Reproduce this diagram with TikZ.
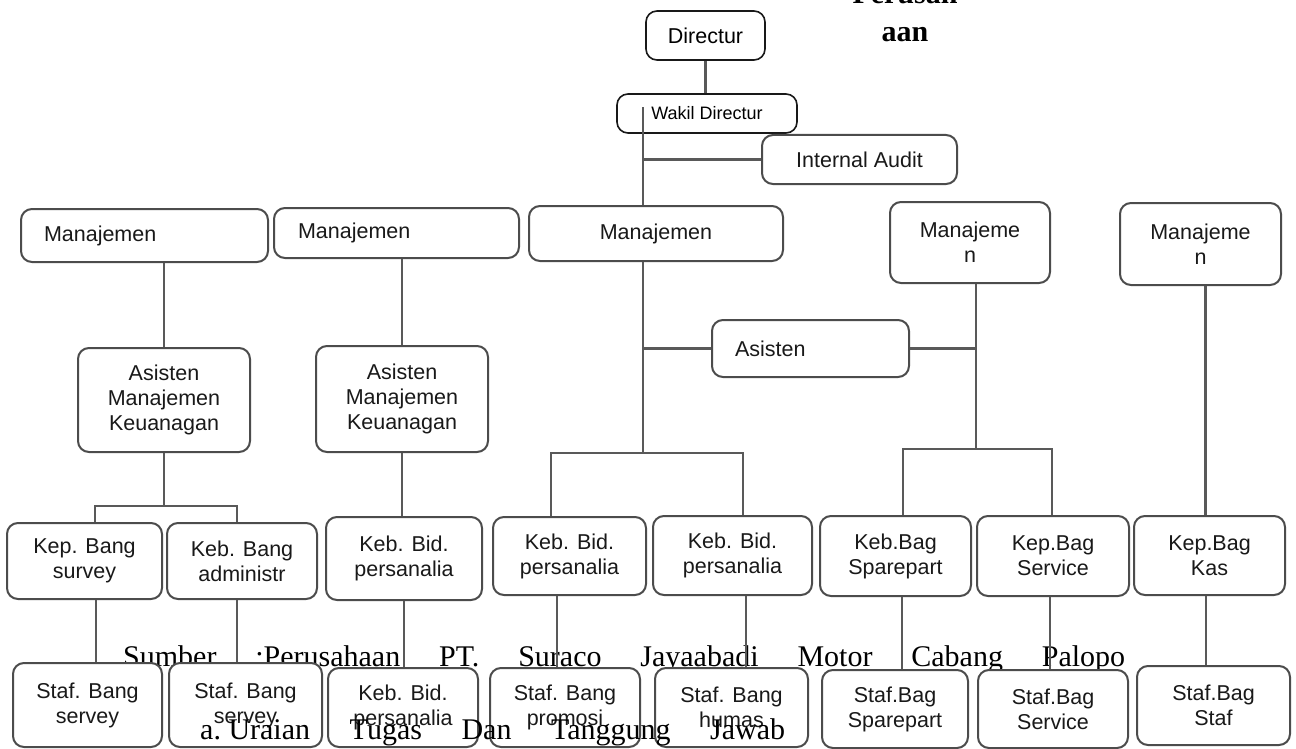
\documentclass[tikz,border=0pt]{standalone}
\usepackage{fontspec}
\setmainfont{Liberation Serif}
\newfontfamily\boxfont{Liberation Sans}

\begin{document}
\begin{tikzpicture}[x=1pt,y=-1pt,
 box/.style 2 args={draw=black!70,line width=2pt,rounded corners=11pt,fill=white,minimum width=#1pt,minimum height=#2pt,inner sep=0pt,align=center,text=black!90,font=\boxfont\fontsize{21.5}{25}\selectfont},
 head/.style={draw=black!90,line width=1.6pt,text=black},
 link/.style={draw=black!65,line width=2.2pt},
 note/.style={inner sep=0pt,anchor=base west,font=\fontsize{30}{36}\selectfont}]
\fill[white] (0,0) rectangle (1296,749);\useasboundingbox (0,0) rectangle (1296,749);
\node[note] (src) at (123,666) {\hbox to 1002pt{Sumber\hfill:Perusahaan\hfill PT.\hfill Suraco\hfill Jayaabadi\hfill Motor\hfill Cabang\hfill Palopo}};
\node[inner sep=0pt,anchor=south,align=center,font=\bfseries\fontsize{30}{38}\selectfont] (per) at (905,42) {Perusah\\aan};

\node[box={119}{49},head] (dir) at (705.5,35.5) {Directur};
\node[box={180}{39},head,font=\boxfont\fontsize{18}{22}\selectfont] (wakil) at (707,113.5) {Wakil Directur};
\node[box={195}{49}] (audit) at (859.5,159.5) {Internal Audit};
\node[box={247}{53},text width=201pt,inner xsep=23pt,align=left] (m1) at (144.5,235.5) {Manajemen};
\node[box={245}{50},text width=197pt,inner xsep=24pt,align=left] (m2) at (396.5,233) {Manajemen};
\node[box={254}{55}] (m3) at (656,233.5) {Manajemen};
\node[box={160}{81}] (m4) at (970,242.5) {Manajeme\\n};
\node[box={161}{82}] (m5) at (1200.5,244) {Manajeme\\n};
\node[box={172}{104}] (a1) at (164,400) {Asisten\\Manajemen\\Keuanagan};
\node[box={172}{106}] (a2) at (402,399) {Asisten\\Manajemen\\Keuanagan};
\node[box={197}{57},text width=151pt,inner xsep=23pt,align=left] (asis) at (810.5,348.5) {Asisten};
\foreach \n/\x/\y/\w/\h/\t in {k1/84.5/561/155/76/{Kep. Bang\\survey},k2/242/561/150/76/{Keb. Bang\\administr},k3/404/558.5/156/83/{Keb. Bid.\\persanalia},k4/569.5/556/153/78/{Keb. Bid.\\persanalia},k5/732.5/555.5/159/79/{Keb. Bid.\\persanalia},k6/895.5/556/151/80/{Keb.Bag\\Sparepart},k7/1053/556/152/80/{Kep.Bag\\Service},k8/1209.5/555.5/151/79/{Kep.Bag\\Kas}}{\node[box={\w}{\h}] (\n) at (\x,\y) {\t};}
\foreach \n/\x/\y/\w/\h/\t in {s1/87.5/705/149/84/{Staf. Bang\\servey},s2/245.5/705/153/84/{Staf. Bang\\servey},s3/403/707.5/150/79/{Keb. Bid.\\persanalia},s4/565/707.5/150/79/{Staf. Bang\\promosi},s5/731.5/707.5/153/79/{Staf. Bang\\humas},s6/895/709/146/78/{Staf.Bag\\Sparepart},s7/1053/709/150/78/{Staf.Bag\\Service},s8/1213.5/705.5/153/79/{Staf.Bag\\Staf}}{\node[box={\w}{\h}] (\n) at (\x,\y) {\t};}

\draw[link] (dir.south) -- (dir.south |- wakil.north);
\coordinate (t) at ([xshift=-64pt,yshift=6pt]wakil.center);
\draw[link] (t) -- (t |- m3.north);\draw[link] (audit.west) -- (audit.west -| t);
\draw[link] (t |- m3.south) -- ++(0,191) coordinate (j3);\draw[link] (asis.west) -- (asis.west -| t);
\draw[link] (j3) -| ([xshift=-18.5pt]k4.north);\draw[link] (j3) -| ([xshift=10.5pt]k5.north);
\draw[link] ([xshift=6pt]m4.south) -- ++(0,165) coordinate (j4);\draw[link] (asis.east) -- (asis.east -| j4);
\draw[link] (j4) -| ([xshift=7.5pt]k6.north);\draw[link] (j4) -| ([xshift=-1pt]k7.north);
\coordinate (j5) at ([xshift=5pt]m5.south);\draw[link] (j5) -- (j5 |- k8.north);
\draw[link] (a1.north |- m1.south) -- (a1.north);\draw[link] (a1.south) -- ++(0,53) coordinate (j1);
\draw[link] (j1) -| ([xshift=10.5pt]k1.north);\draw[link] (j1) -| ([xshift=-5pt]k2.north);
\draw[link] (a2.north |- m2.south) -- (a2.north);\draw[link] (a2.south) -- (a2.south |- k3.north);
\foreach \a/\b/\d in {k1/s1/11.5,k2/s2/-5,k3/s3/0,k4/s4/-12.5,k5/s5/13.5,k6/s6/6.5,k7/s7/-3,k8/s8/-3.5}{\coordinate (c) at ([xshift=\d pt]\a.south);\draw[link] (c) -- (c |- \b.north);}

\node[note] (task) at (200,739) {\hbox to 585pt{a.\ Uraian\hfill Tugas\hfill Dan\hfill Tanggung\hfill Jawab}};
\end{tikzpicture}
\end{document}
